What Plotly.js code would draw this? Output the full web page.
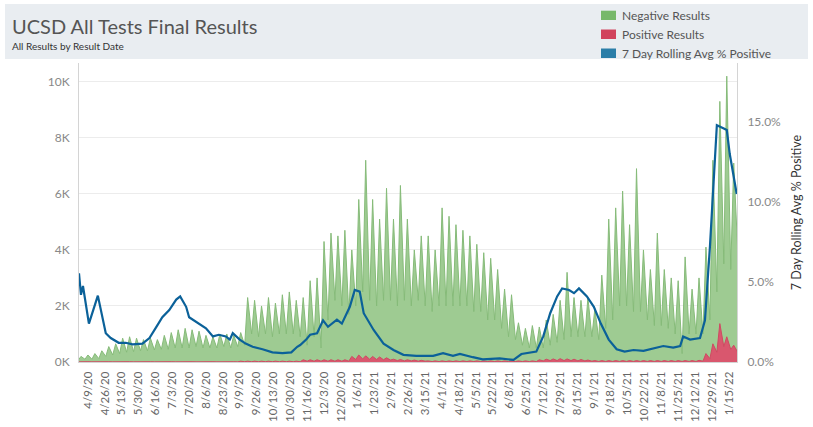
<!DOCTYPE html>
<html>
<head>
<meta charset="utf-8">
<script src="https://cdn.plot.ly/plotly-3.0.1.min.js"></script>
<style>html,body{margin:0;padding:0;background:#fff;}#chart{width:813px;height:427px;}</style>
</head>
<body>
<div id="chart"></div>
<script>
// ---- data ----
// weekly cycle: each week k has a weekday peak and a weekend trough of daily results
const negPeak = [200,250,300,400,550,650,850,900,850,800,
 850,800,950,1050,1150,1200,1150,1100,950,900,
 1000,1000,950,1050,2300,2200,2000,2300,2100,2400,
 2500,2200,2300,2900,3000,4300,4600,4500,4700,4000,
 5800,7200,5800,5100,6200,5100,6300,5100,4000,4500,
 4500,4000,5500,5200,4900,4700,4500,4200,3900,3700,
 3300,2600,2400,1400,1200,1300,1250,1500,1700,2200,
 3200,2300,2200,2300,1900,3100,5100,5500,6100,4900,
 6900,4000,3300,4600,3300,3000,2900,3750,2600,3000,
 4100,7200,9300,10200,7100];
const negTrough = [100,100,120,200,250,300,350,370,400,400,
 430,450,450,500,500,500,550,500,500,500,
 550,500,550,600,1000,900,1000,900,1000,1000,
 1000,900,600,900,500,1500,2200,2000,1700,2000,
 2500,2200,2000,2200,2200,2000,2200,2000,2200,2000,
 1800,2000,2000,2000,2000,2000,1800,1800,1500,1500,
 1200,900,800,600,500,500,500,600,700,800,
 900,900,900,900,800,1200,1500,2000,2000,1800,
 1800,1500,1300,1300,1200,1000,300,1000,1000,1000,
 1500,2500,3500,3300,4000];
const posPeak = [10,10,10,10,10,10,10,10,10,10,
 10,10,10,10,10,10,10,10,10,10,
 10,10,10,30,30,30,30,30,30,30,
 30,30,80,80,80,80,80,80,80,200,
 250,220,200,180,150,100,90,80,70,60,
 40,40,40,40,40,40,40,40,40,40,
 40,40,40,40,40,40,80,100,110,120,
 110,100,90,70,50,50,50,50,50,50,
 50,50,50,50,50,50,50,50,50,60,
 300,650,1370,900,600];
const posTrough = [5,5,5,5,5,5,5,5,5,5,
 5,5,5,5,5,5,5,5,5,5,
 5,5,5,10,10,10,10,10,10,10,
 10,10,30,30,30,30,30,30,30,90,
 110,100,90,80,70,50,40,40,30,30,
 15,15,15,15,15,15,15,15,15,15,
 15,15,15,15,15,15,40,50,50,50,
 50,40,40,30,20,20,20,20,20,20,
 20,20,20,20,20,20,20,20,20,30,
 120,350,550,450,350];
// 7-day rolling average % positive: day number (from 2020-03-31) and value
const avgDay = [0,2,4,10,19,27,32,40,47,54,64,71,78,84,91,98,102,108,111,121,
 128,135,141,148,152,155,162,168,175,185,195,205,214,220,223,229,233,240,246,251,
 260,265,273,278,283,287,297,307,317,327,340,357,367,377,384,397,407,424,438,446,
 455,461,468,475,482,487,494,499,504,512,519,526,534,542,550,559,569,579,589,599,
 606,609,616,626,631,636,641,643,650,653,656,663];
const avgPct = [5.54,4.2,4.75,2.4,4.15,1.8,1.5,1.2,1.2,1.1,1.15,1.5,2.2,2.8,3.25,3.9,4.1,3.45,2.8,2.4,
 2.1,1.6,1.7,1.6,1.4,1.8,1.4,1.15,0.95,0.8,0.6,0.55,0.6,0.95,1.06,1.4,1.7,1.8,2.6,2.2,
 2.65,2.4,3.45,4.5,4.4,3.05,2.0,1.15,0.75,0.45,0.38,0.38,0.55,0.38,0.5,0.3,0.17,0.23,0.13,0.5,
 0.6,0.65,1.6,3.05,4.1,4.6,4.5,4.3,4.6,4.1,3.45,2.4,1.4,0.8,0.65,0.75,0.7,0.85,1.0,0.9,
 1.0,1.6,1.4,1.5,2.6,7.2,13.0,14.8,14.6,14.5,13.0,10.5];
const xTickLabels = ["4/9/20","4/26/20","5/13/20","5/30/20","6/16/20","7/3/20","7/20/20","8/6/20","8/23/20","9/9/20",
 "9/26/20","10/13/20","10/30/20","11/16/20","12/3/20","12/20/20","1/6/21","1/23/21","2/9/21","2/26/21",
 "3/15/21","4/1/21","4/18/21","5/5/21","5/22/21","6/8/21","6/25/21","7/12/21","7/29/21","8/15/21",
 "9/1/21","9/18/21","10/5/21","10/22/21","11/8/21","11/25/21","12/12/21","12/29/21","1/15/22"];
const yTickVals = [0,2000,4000,6000,8000,10000];
const yTickText = ["0K","2K","4K","6K","8K","10K"];
const y2TickVals = [0,5,10,15];
const y2TickText = ["0.0%","5.0%","10.0%","15.0%"];

// ---- helpers ----
const BASE = Date.UTC(2020,2,31);
function dayToDate(d){ return new Date(BASE + d*864e5).toISOString().slice(0,19).replace('T',' '); }
function labelToDate(s){ const p=s.split('/'); const m=('0'+p[0]).slice(-2), dd=('0'+p[1]).slice(-2); return '20'+p[2]+'-'+m+'-'+dd; }
function weekly(peaks, troughs){
  const x=[], y=[];
  for(let k=0;k<peaks.length;k++){
    x.push(dayToDate(7*k+2)); y.push(peaks[k]);
    x.push(dayToDate(7*k+6)); y.push(troughs[k]);
  }
  return {x, y};
}
const neg = weekly(negPeak, negTrough);
const pos = weekly(posPeak, posTrough);
// start both areas at the left edge
neg.x.unshift(dayToDate(0)); neg.y.unshift(negTrough[0]);
pos.x.unshift(dayToDate(0)); pos.y.unshift(posTrough[0]);

// plot-area pixel helpers for decorations
const L=79, R=737, T=63, B=362;
const px = v => (v-L)/(R-L);
const py = v => (B-v)/(B-T);

const traces = [
  {x:neg.x, y:neg.y, type:'scatter', mode:'lines', fill:'tozeroy', name:'Negative Results',
   line:{color:'#86bb79', width:1}, fillcolor:'#9ecb92', hoverinfo:'skip', showlegend:false},
  {x:pos.x, y:pos.y, type:'scatter', mode:'lines', fill:'tozeroy', name:'Positive Results',
   line:{color:'#cf4a62', width:1}, fillcolor:'#d9576e', hoverinfo:'skip', showlegend:false},
  {x:avgDay.map(dayToDate), y:avgPct, type:'scatter', mode:'lines', yaxis:'y2', name:'7 Day Rolling Avg % Positive',
   line:{color:'#0b6199', width:2.2}, hoverinfo:'skip', showlegend:false}
];

const legendItems = [
  {text:'Negative Results', color:'#77b86a', y0:10.7, y1:20},
  {text:'Positive Results', color:'#d1435d', y0:29.5, y1:39},
  {text:'7 Day Rolling Avg % Positive', color:'#2b7ea8', y0:48.5, y1:58}
];

const shapes = [
  {type:'rect', xref:'paper', yref:'paper', x0:px(5), x1:px(808), y0:py(4), y1:py(59),
   fillcolor:'#e9edf1', line:{width:0}, layer:'below'}
];
const annotations = [
  {xref:'paper', yref:'paper', x:px(10), y:py(26), xanchor:'left', yanchor:'middle', showarrow:false,
   text:'UCSD All Tests Final Results', font:{family:'Lato', size:20, color:'#555'}},
  {xref:'paper', yref:'paper', x:px(10), y:py(46), xanchor:'left', yanchor:'middle', showarrow:false,
   text:'All Results by Result Date', font:{family:'Lato', size:10, color:'#333'}}
];
legendItems.forEach(it => {
  shapes.push({type:'rect', xref:'paper', yref:'paper', x0:px(601), x1:px(616), y0:py(it.y1), y1:py(it.y0),
    fillcolor:it.color, line:{width:0}});
  annotations.push({xref:'paper', yref:'paper', x:px(620), y:py((it.y0+it.y1)/2), xanchor:'left', yanchor:'middle',
    showarrow:false, text:it.text, font:{family:'Lato', size:12, color:'#555'}});
});

const layout = {
  width:813, height:427,
  margin:{l:L, r:813-R, t:T, b:427-B, pad:0},
  paper_bgcolor:'#fff', plot_bgcolor:'#fff',
  font:{family:'Lato', color:'#666'},
  showlegend:false,
  xaxis:{type:'date', range:[dayToDate(0), dayToDate(663.3)],
    tickmode:'array', tickvals:xTickLabels.map(labelToDate), ticktext:xTickLabels,
    tickangle:-90, tickfont:{family:'Lato', size:11.5, color:'#666'},
    showgrid:false, zeroline:false, showline:true, linecolor:'#d4d4d4', linewidth:1, ticks:'', ticklabelstandoff:4, fixedrange:true},
  yaxis:{range:[0,10670], tickmode:'array', tickvals:yTickVals, ticktext:yTickText,
    tickfont:{family:'Lato', size:12, color:'#888'}, gridcolor:'#ececec', gridwidth:1,
    zeroline:false, showline:true, linecolor:'#d4d4d4', linewidth:1, ticks:'', ticklabelstandoff:6, fixedrange:true},
  yaxis2:{overlaying:'y', side:'right', range:[0,18.69], tickmode:'array', tickvals:y2TickVals, ticktext:y2TickText,
    tickfont:{family:'Lato', size:12, color:'#888'}, showgrid:false, zeroline:false,
    showline:true, linecolor:'#d4d4d4', linewidth:1, ticks:'', ticklabelstandoff:7, fixedrange:true,
    title:{text:'7 Day Rolling Avg % Positive', font:{family:'Lato', size:12.5, color:'#333'}, standoff:12}},
  shapes:shapes,
  annotations:annotations
};

Plotly.newPlot('chart', traces, layout, {staticPlot:true, displayModeBar:false});
</script>
</body>
</html>
